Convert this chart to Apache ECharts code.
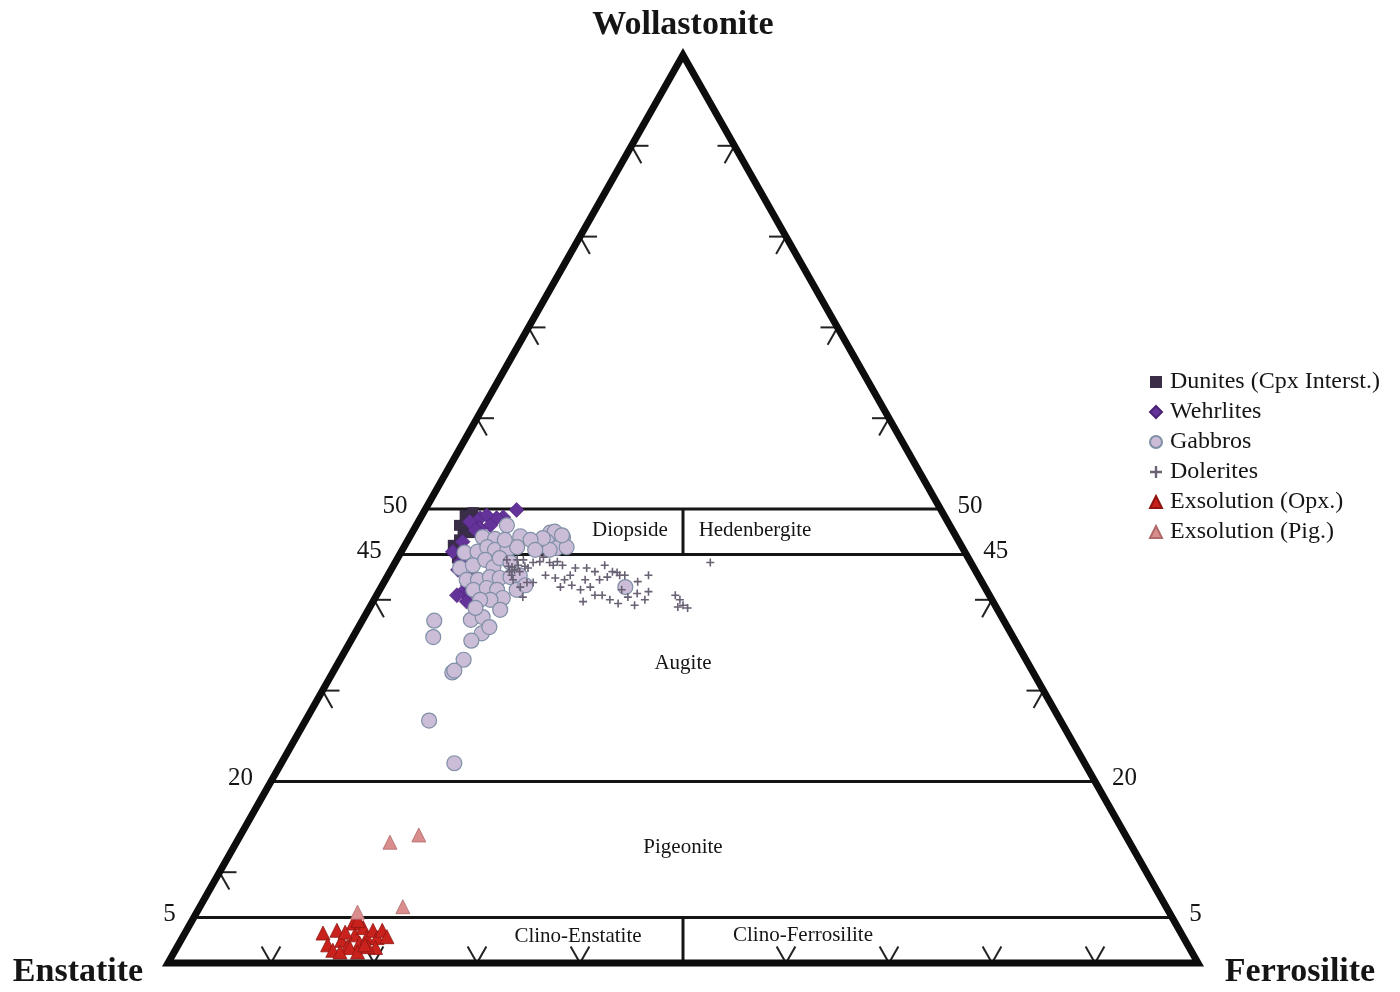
<!DOCTYPE html>
<html>
<head>
<meta charset="utf-8">
<script src="https://cdn.jsdelivr.net/npm/echarts@6/dist/echarts.min.js"></script>
<style>
html, body { margin: 0; padding: 0; background: #fff; }
#main { width: 1400px; height: 992px; }
</style>
</head>
<body>
<div id="main"></div>
<script>
// pyroxene compositions, each point is [Wo, Fs] (En = 100 - Wo - Fs)
var dunites = [[49.6,4.8],[48.8,4.6],[47.7,4.8],[46.6,5.0],[45.5,5.1],[44.6,5.8],[47.4,5.6],[48.5,5.8],[49.3,4.2],[48.2,4.2],[46.0,4.7],[48.8,4.9]];
var wehrlites = [[49.9,8.9],[49.1,8.0],[49.0,5.8],[48.6,5.0],[46.4,5.4],[45.3,5.0],[44.2,6.3],[40.9,8.2],[39.8,9.1],[40.5,7.8],[49.0,7.4],[49.3,6.3],[48.2,7.2],[47.9,6.3],[46.6,7.5],[44.4,6.6],[42.7,8.2],[41.6,8.3],[40.9,8.9],[43.3,6.5],[47.7,6.0]];
var gabbros = [[37.7,7.0],[35.9,7.8],[37.8,10.5],[36.3,12.3],[35.5,11.7],[33.4,12.0],[32.0,11.6],[32.2,11.7],[26.7,12.0],[22.0,16.8],[38.1,11.5],
  [48.2,8.8],[46.9,7.1],[46.7,8.4],[47.0,10.7],[45.2,6.2],[45.3,7.4],[45.8,8.1],[45.5,9.0],[45.5,10.2],[45.8,11.0],[43.5,6.6],[43.8,7.7],[44.4,8.6],[43.6,9.8],[44.6,9.9],[44.1,11.2],
  [42.2,7.9],[42.2,9.0],[42.5,10.0],[42.4,11.0],[42.5,12.0],[42.7,12.8],[41.1,9.1],[41.3,10.3],[41.1,11.4],[40.2,12.4],[40.0,11.3],[40.0,10.3],[41.1,13.3],[41.6,13.9],
  [47.4,13.4],[47.5,13.8],[46.9,14.9],[46.4,13.6],[45.7,14.9],[45.8,15.8],[45.5,14.3],[46.8,13.0],[47.1,14.7],[41.4,23.7],[46.6,11.9],[45.5,12.9],[46.6,9.4],[37.0,12.7],[39.1,10.3],[38.9,12.8]];
var dolerites = [[44.7,14.1],[43.8,15.5],[43.8,16.4],[43.5,17.8],[43.5,18.9],[43.1,19.9],[43.8,20.5],[43.1,21.6],[42.7,22.5],[42.5,21.4],[43.0,22.1],[41.6,18.4],[41.4,20.3],[41.4,17.4],
  [39.8,20.4],[40.5,21.9],[40.0,22.9],[39.6,23.9],[40.3,24.5],[42.0,24.6],[40.7,25.2],[42.7,25.3],[40.9,26.2],[39.4,25.6],[40.5,29.0],[40.0,29.7],[39.4,30.3],[39.1,30.9],[39.2,29.9],[44.1,30.6],
  [44.4,10.7],[43.6,11.6],[44.4,11.7],[44.4,12.3],[44.1,13.4],[44.2,14.0],[44.1,15.0],[44.2,15.7],[42.2,12.4],[41.9,13.9],[41.9,14.5],[41.4,13.5],[40.3,14.3],
  [42.7,17.7],[41.1,19.5],[40.5,21.2],[42.2,20.8],[42.7,23.0],[40.0,26.3],[43.3,12.0],[43.1,12.6],[43.1,11.6],[43.5,13.2],[42.7,15.3],[42.4,16.4],[42.2,17.4],[41.1,23.5],[42.2,19.4],
  [43.7,11.2],[43.8,12.1],[43.7,12.8],[42.7,12.0]];
var exsolOpx = [[3.3,13.4],[2.0,14.5],[3.6,14.6],[2.5,15.6],[1.8,16.5],[4.4,15.8],[3.1,16.6],[2.2,17.5],[3.9,17.0],[2.8,17.9],[3.6,18.1],[2.8,18.9],[3.6,19.0],[2.9,19.8],
  [1.7,19.3],[1.7,16.8],[1.4,15.3],[4.7,16.1],[1.2,17.8],[1.8,18.5],[1.2,16.1],[3.4,15.5],[2.0,18.1]];
var exsolPig = [[13.3,14.9],[14.1,17.3],[6.2,19.7],[5.6,15.6]];

var seriesNames = ['Dunites (Cpx Interst.)', 'Wehrlites', 'Gabbros', 'Dolerites', 'Exsolution (Opx.)', 'Exsolution (Pig.)'];
var boundaryWo = [50, 45, 20, 5];      // Wo lines of the quadrilateral
var splitWo = [[45, 50], [0, 5]];      // En = Fs dividers
var leftTicks = [10, 30, 40, 60, 70, 80, 90];
var rightTicks = [30, 40, 60, 70, 80, 90];
var baseTicks = [10, 20, 30, 40, 60, 70, 80, 90];

// ternary -> plot coords: x = Fs + Wo/2, y = Wo
function tern(wo, fs) { return [fs + wo / 2, wo]; }
function toXY(list) { return list.map(function (p) { return tern(p[0], p[1]); }); }

var segs = [];
boundaryWo.forEach(function (w) {
  var a = tern(w, 0), b = tern(w, 100 - w);
  segs.push([a[0], a[1], b[0], b[1]]);
});
splitWo.forEach(function (s) {
  var a = tern(s[0], (100 - s[0]) / 2), b = tern(s[1], (100 - s[1]) / 2);
  segs.push([a[0], a[1], b[0], b[1]]);
});

var labelData = [];
boundaryWo.forEach(function (w) {
  var a = tern(w, 0), b = tern(w, 100 - w);
  labelData.push([a[0], a[1], w, 0]);
  labelData.push([b[0], b[1], w, 1]);
});

var tickData = [];
leftTicks.forEach(function (w) { var p = tern(w, 0); tickData.push([p[0], p[1], 0]); });
rightTicks.forEach(function (w) { var p = tern(w, 100 - w); tickData.push([p[0], p[1], 1]); });
baseTicks.forEach(function (f) { var p = tern(0, f); tickData.push([p[0], p[1], 2]); });

var serif = '"Liberation Serif", "Times New Roman", serif';
var ink = '#151515';

function unit(a, b) {
  var dx = b[0] - a[0], dy = b[1] - a[1], l = Math.sqrt(dx * dx + dy * dy);
  return [dx / l, dy / l];
}

var dom = document.getElementById('main');
var myChart = echarts.init(dom);
var option = {
  animation: false,
  backgroundColor: '#fff',
  grid: { left: 168, top: 55, width: 1030, height: 908 },
  xAxis: { type: 'value', min: 0, max: 100, show: false },
  yAxis: { type: 'value', min: 0, max: 100, show: false },
  legend: {
    orient: 'vertical',
    left: 1144,
    top: 365,
    itemWidth: 12,
    itemHeight: 12,
    itemGap: 6,
    data: seriesNames,
    textStyle: { fontFamily: serif, fontSize: 24, color: ink, lineHeight: 24, padding: [0, 0, 0, 3] }
  },
  graphic: [
    { type: 'text', x: 683, y: 25, style: { text: 'Wollastonite', font: 'bold 34px ' + serif, fill: ink, align: 'center', verticalAlign: 'middle' } },
    { type: 'text', x: 78, y: 972, style: { text: 'Enstatite', font: 'bold 34px ' + serif, fill: ink, align: 'center', verticalAlign: 'middle' } },
    { type: 'text', x: 1300, y: 972, style: { text: 'Ferrosilite', font: 'bold 34px ' + serif, fill: ink, align: 'center', verticalAlign: 'middle' } },
    { type: 'text', x: 630, y: 530, style: { text: 'Diopside', font: '21px ' + serif, fill: ink, align: 'center', verticalAlign: 'middle' } },
    { type: 'text', x: 755, y: 530, style: { text: 'Hedenbergite', font: '21px ' + serif, fill: ink, align: 'center', verticalAlign: 'middle' } },
    { type: 'text', x: 683, y: 663, style: { text: 'Augite', font: '21px ' + serif, fill: ink, align: 'center', verticalAlign: 'middle' } },
    { type: 'text', x: 683, y: 847, style: { text: 'Pigeonite', font: '21px ' + serif, fill: ink, align: 'center', verticalAlign: 'middle' } },
    { type: 'text', x: 578, y: 936, style: { text: 'Clino-Enstatite', font: '21px ' + serif, fill: ink, align: 'center', verticalAlign: 'middle' } },
    { type: 'text', x: 803, y: 935, style: { text: 'Clino-Ferrosilite', font: '21px ' + serif, fill: ink, align: 'center', verticalAlign: 'middle' } }
  ],
  series: [
    {
      // field boundaries
      type: 'custom',
      silent: true,
      z: 1,
      data: segs,
      encode: { x: [0, 2], y: [1, 3] },
      renderItem: function (params, api) {
        var a = api.coord([api.value(0), api.value(1)]);
        var b = api.coord([api.value(2), api.value(3)]);
        return { type: 'line', shape: { x1: a[0], y1: a[1], x2: b[0], y2: b[1] }, style: { stroke: ink, lineWidth: 3 } };
      }
    },
    {
      // Wo labels at both ends of boundaries
      type: 'custom',
      silent: true,
      z: 1,
      data: labelData,
      encode: { x: 0, y: 1 },
      renderItem: function (params, api) {
        var p = api.coord([api.value(0), api.value(1)]);
        var right = api.value(3) === 1;
        return {
          type: 'text',
          x: right ? p[0] + 17 : p[0] - 18,
          y: p[1] - 3,
          style: { text: String(api.value(2)), font: '25px ' + serif, fill: ink, align: right ? 'left' : 'right', verticalAlign: 'middle' }
        };
      }
    },
    {
      // edge ticks
      type: 'custom',
      silent: true,
      z: 1,
      data: tickData,
      encode: { x: 0, y: 1 },
      renderItem: function (params, api) {
        var p = api.coord([api.value(0), api.value(1)]);
        var kind = api.value(2);
        var top = api.coord([50, 100]), bl = api.coord([0, 0]), br = api.coord([100, 0]);
        var dL = unit(top, bl), dR = unit(top, br);
        var ends;
        if (kind === 0) {
          ends = [[p[0] + 17, p[1]], [p[0] + 20 * dR[0], p[1] + 20 * dR[1]]];
        } else if (kind === 1) {
          ends = [[p[0] - 17, p[1]], [p[0] + 20 * dL[0], p[1] + 20 * dL[1]]];
        } else {
          ends = [[p[0] - 19 * dL[0], p[1] - 19 * dL[1]], [p[0] - 19 * dR[0], p[1] - 19 * dR[1]]];
        }
        return {
          type: 'group',
          children: ends.map(function (e) {
            return { type: 'line', shape: { x1: p[0], y1: p[1], x2: e[0], y2: e[1] }, style: { stroke: '#222', lineWidth: 2 } };
          })
        };
      }
    },
    {
      // triangle outline
      type: 'custom',
      silent: true,
      z: 5,
      data: [[50, 50]],
      renderItem: function (params, api) {
        var pts = [api.coord([50, 100]), api.coord([0, 0]), api.coord([100, 0])];
        return { type: 'polygon', shape: { points: pts }, style: { fill: 'none', stroke: '#0d0d0d', lineWidth: 7, lineJoin: 'miter' } };
      }
    },
    {
      name: seriesNames[0], type: 'scatter', z: 3, data: toXY(dunites),
      symbol: 'rect', symbolSize: 11,
      itemStyle: { color: '#3a2d47', opacity: 1 }
    },
    {
      name: seriesNames[1], type: 'scatter', z: 3, data: toXY(wehrlites),
      symbol: 'diamond', symbolSize: 15,
      itemStyle: { color: '#64339a', borderColor: '#4a2472', borderWidth: 0.6, opacity: 1 }
    },
    {
      name: seriesNames[2], type: 'scatter', z: 3, data: toXY(gabbros),
      symbol: 'circle', symbolSize: 15,
      itemStyle: { color: '#cbbcd8', borderColor: '#7f90a6', borderWidth: 1.2, opacity: 1 }
    },
    {
      name: seriesNames[3], type: 'scatter', z: 3, data: toXY(dolerites),
      symbol: 'path://M4,0H6V4H10V6H6V10H4V6H0V4H4Z', symbolSize: 8,
      itemStyle: { color: '#6a6274', opacity: 1 }
    },
    {
      name: seriesNames[4], type: 'scatter', z: 3, data: toXY(exsolOpx),
      symbol: 'triangle', symbolSize: 14,
      itemStyle: { color: '#c9221d', borderColor: '#8e1512', borderWidth: 0.8, opacity: 1 }
    },
    {
      name: seriesNames[5], type: 'scatter', z: 3, data: toXY(exsolPig),
      symbol: 'triangle', symbolSize: 14,
      itemStyle: { color: '#d98d8d', borderColor: '#b06a6a', borderWidth: 0.8, opacity: 1 }
    }
  ]
};

if (option && typeof option === 'object') {
  myChart.setOption(option, true);
}
</script>
</body>
</html>
